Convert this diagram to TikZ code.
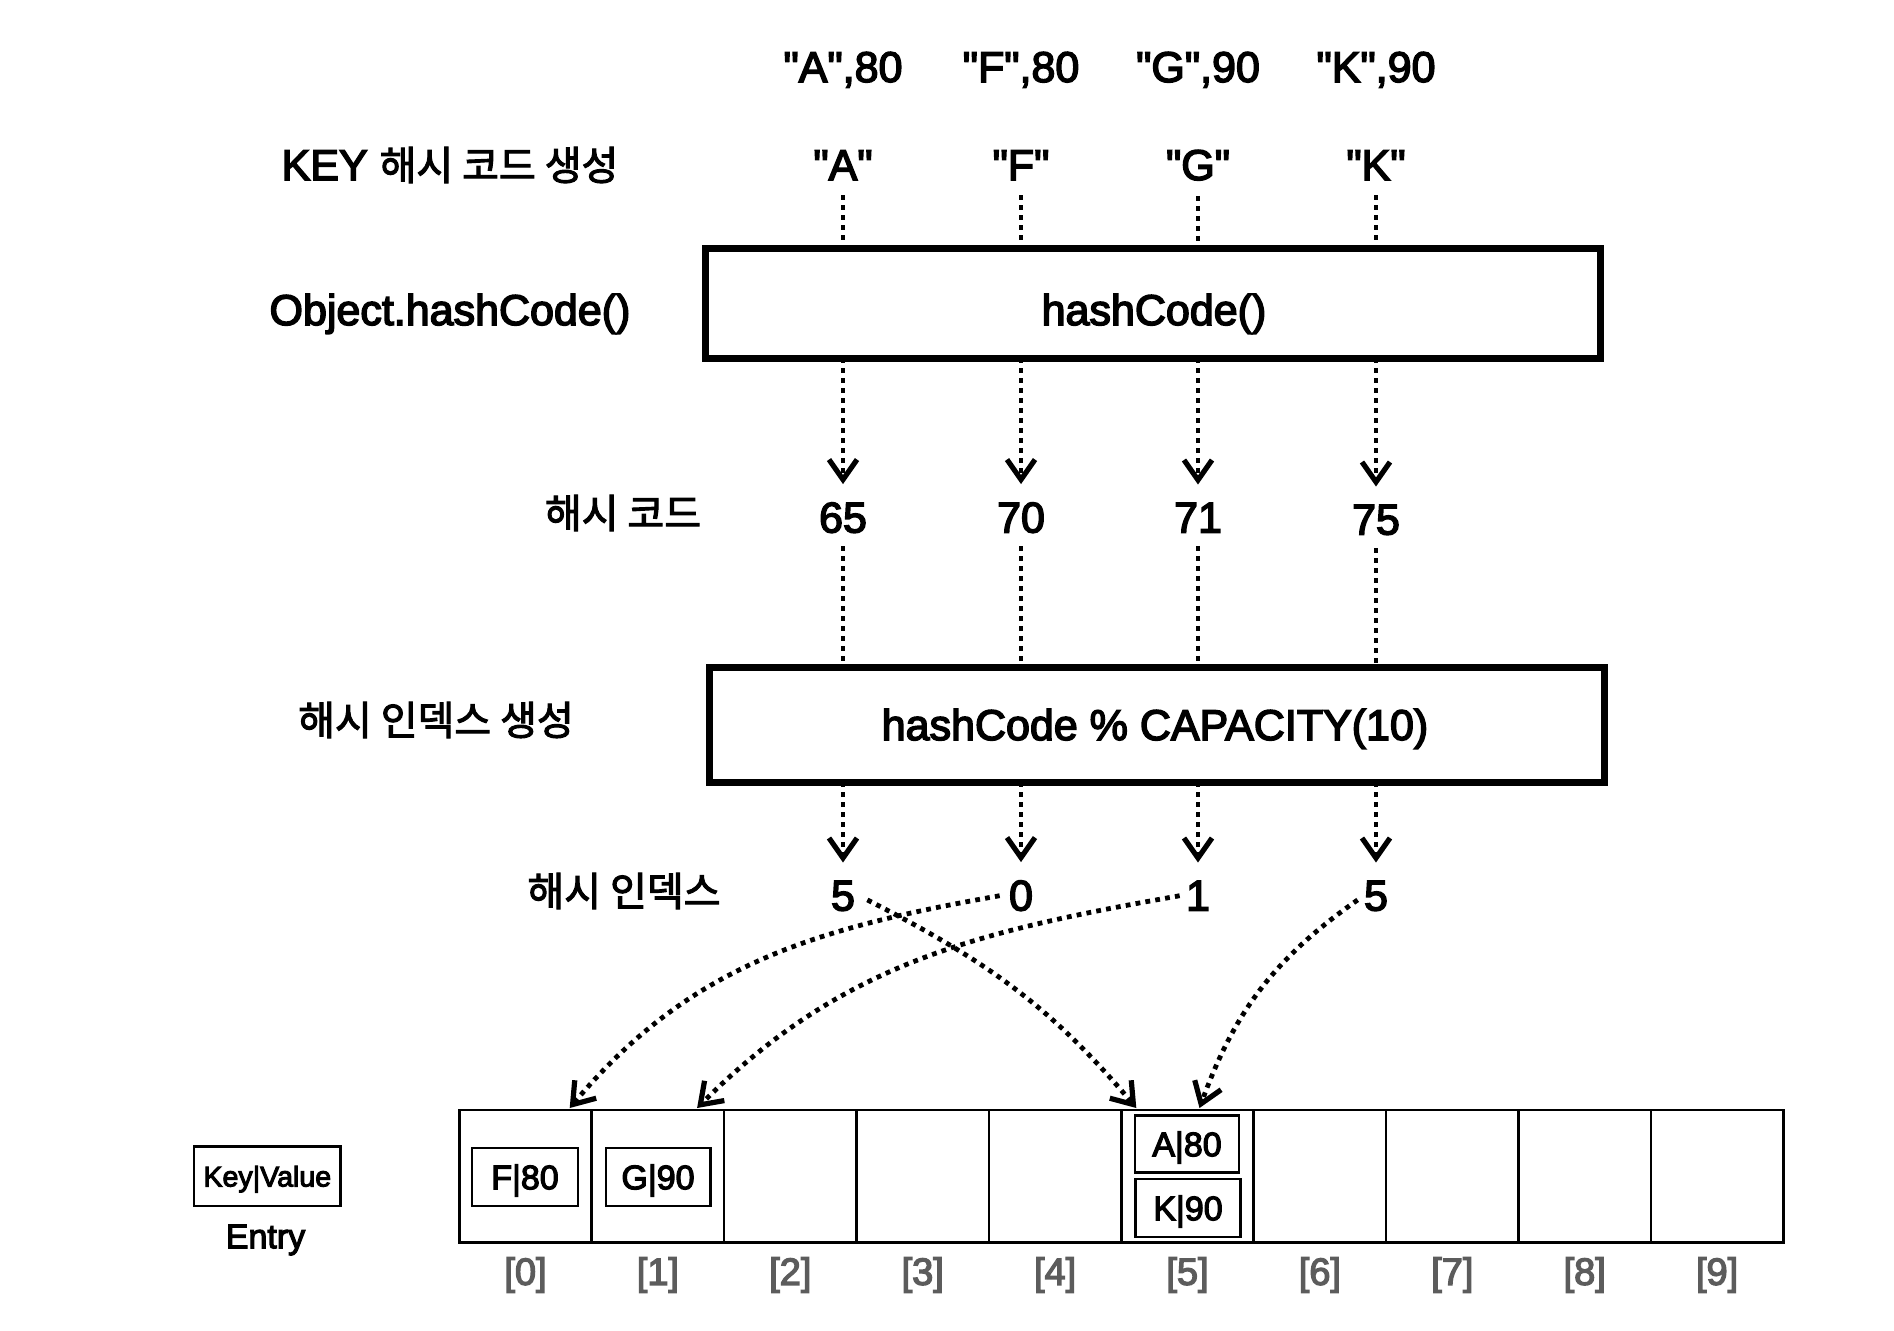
\documentclass[tikz,border=0pt]{standalone}
\usepackage{fontspec}
\setmainfont{Liberation Sans}[Ligatures=TeXOff, FakeBold=3.5]
\newfontfamily\kr{Noto Sans CJK KR}[FakeBold=2.6]
\usetikzlibrary{arrows.meta}
\begin{document}
\begin{tikzpicture}[x=0.5pt,y=-0.5pt,
  lbl/.style={inner sep=0pt, anchor=base, font=\fontsize{21.5}{24}\selectfont},
  krl/.style={inner sep=0pt, font=\fontsize{20}{24}\selectfont\kr},
  dotln/.style={line width=2.4pt, dash pattern=on 2.4pt off 2.6pt},
  arr/.style={dotln, -{Straight Barb[length=10pt,width=14pt,line width=2.6pt]}},
  bigbox/.style={draw, line width=3.5pt, inner sep=0pt, outer sep=0pt, minimum width=447.5pt},
  cellbox/.style={draw, line width=1.3pt, inner sep=0pt, outer sep=0pt, minimum width=66.2pt, minimum height=66.25pt},
  entrybox/.style={draw, line width=1.3pt, inner sep=0pt, outer sep=0pt, text height=12.2pt, text depth=0pt, font=\fontsize{17}{20}\selectfont},
  idx/.style={inner sep=0pt, text=black!64, font=\fontsize{19}{22}\selectfont}
]
\fill[white] (0,0) rectangle (1894,1330);

% top row
\node[lbl] (t1) at (843,82) {"A",80};
\node[lbl] (t2) at (1021,82) {"F",80};
\node[lbl] (t3) at (1198,82) {"G",90};
\node[lbl] (t4) at (1376,82) {"K",90};

% key row
\node[lbl] (keylbl) at (450,180) {KEY {\kr\fontsize{20}{24}\selectfont 해시 코드 생성}};
\node[lbl] (k1) at (843,180) {"A"};
\node[lbl] (k2) at (1021,180) {"F"};
\node[lbl] (k3) at (1198,180) {"G"};
\node[lbl] (k4) at (1376,180) {"K"};

% box 1
\node[lbl] (objlbl) at (450,325) {Object.hashCode()};
\node[bigbox, minimum height=54.75pt] (b1) at (1152.5,303.25) {};
\node[lbl] (b1t) at (1154,325) {hashCode()};

% hash codes
\node[krl] (hclbl) at (623,513) {해시 코드};
\node[lbl] (h1) at (843,532.5) {65};
\node[lbl] (h2) at (1021,532.5) {70};
\node[lbl] (h3) at (1198,532.5) {71};
\node[lbl] (h4) at (1376,534.5) {75};

% box 2
\node[krl] (hilbl) at (436,720) {해시 인덱스 생성};
\node[bigbox, minimum height=57.25pt] (b2) at (1156.5,724.75) {};
\node[lbl] (b2t) at (1155,740) {hashCode \% CAPACITY(10)};

% indexes
\node[krl] (idxlbl) at (624,891) {해시 인덱스};
\node[lbl] (i1) at (843,910.5) {5};
\node[lbl] (i2) at (1021,910.5) {0};
\node[lbl] (i3) at (1198,910.5) {1};
\node[lbl] (i4) at (1376,910.5) {5};

% dotted connectors
\foreach \k in {1,2,3,4}{
  \draw[dotln] ([yshift=-7.5pt]k\k.south) -- (k\k |- b1.north);
  \draw[arr] (h\k |- b1.south) -- ([yshift=9pt]h\k.north);
  \draw[dotln] ([yshift=-6.5pt]h\k.south) -- (h\k |- b2.north);
  \draw[arr] (i\k |- b2.south) -- ([yshift=9pt]i\k.north);
}

% array cells
\foreach \i in {0,...,9}{
  \node[cellbox] (c\i) at ({459.3+132.4*(\i+0.5)},1176.25) {};
  \node[idx] (l\i) at ({459.3+132.4*(\i+0.5)},1275) {[\i]};
}

% entries
\node[entrybox, minimum width=52.85pt, minimum height=29.15pt] (e0) at (525,1177) {F|80};
\node[entrybox, minimum width=52.2pt, minimum height=29.15pt] (e1) at (658,1177) {G|90};
\node[entrybox, minimum width=52.15pt, minimum height=28.5pt] (e5a) at (1187,1144) {A|80};
\node[entrybox, minimum width=52.6pt, minimum height=28.9pt] (e5b) at (1188,1208) {K|90};

% legend
\node[entrybox, minimum width=73.3pt, minimum height=29.65pt, text height=10.2pt, font=\fontsize{14.3}{16}\selectfont] (kv) at (267.3,1176.3) {Key|Value};
\node[inner sep=0pt, font=\fontsize{17}{20}\selectfont] (entrylbl) at (265.5,1240) {Entry};

% curved arrows
\draw[arr] ([xshift=6pt,yshift=-2pt]i1.east) to[out=-27,in=130] ([xshift=7.5pt,yshift=1pt]c5.north west);
\draw[arr] ([xshift=-4.5pt]i2.west) to[out=190,in=50] ([xshift=-11pt,yshift=1pt]c0.north east);
\draw[arr] ([xshift=-3pt]i3.west) to[out=190,in=45] ([xshift=-13.5pt,yshift=1pt]c1.north east);
\draw[arr] ([xshift=-3pt,yshift=-2pt]i4.west) to[out=215,in=70] ([xshift=6pt,yshift=1pt]c5.north);
\end{tikzpicture}
\end{document}
